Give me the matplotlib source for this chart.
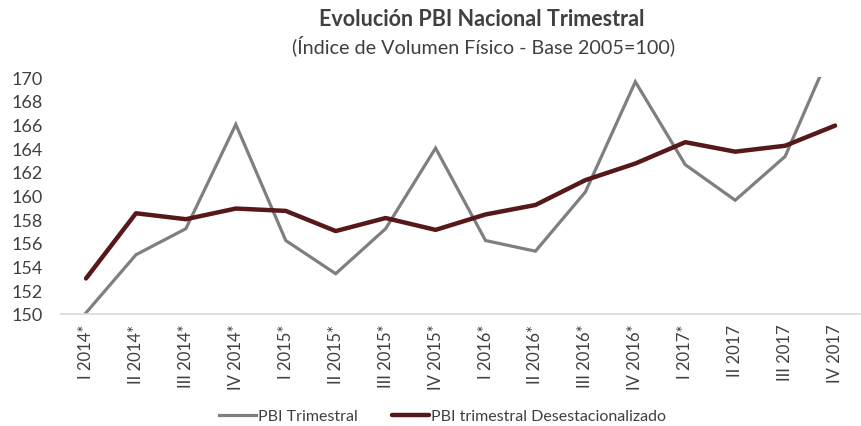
import matplotlib
matplotlib.use("Agg")
import matplotlib.pyplot as plt

categories = ["I 2014*", "II 2014*", "III 2014*", "IV 2014*",
              "I 2015*", "II 2015*", "III 2015*", "IV 2015*",
              "I 2016*", "II 2016*", "III 2016*", "IV 2016*",
              "I 2017*", "II 2017", "III 2017", "IV 2017"]
pbi_trimestral = [150.1, 155.0, 157.2, 166.0, 156.2, 153.4, 157.2, 164.0,
                  156.2, 155.3, 160.3, 169.6, 162.6, 159.6, 163.3, 173.0]
pbi_desest = [153.0, 158.5, 158.0, 158.9, 158.7, 157.0, 158.1, 157.1,
              158.4, 159.2, 161.3, 162.7, 164.5, 163.7, 164.2, 165.9]
yticks = list(range(150, 171, 2))

plt.rcParams['font.family'] = ['Lato', 'DejaVu Sans']

fig = plt.figure(figsize=(8.61, 4.27), dpi=100)
ax = fig.add_axes([0.0709, 0.2623, 0.928, 0.555])
x = list(range(len(categories)))
ax.plot(x, pbi_trimestral, color='#7f7f7f', lw=2.3, label='PBI Trimestral',
        solid_joinstyle='miter')
ax.plot(x, pbi_desest, color='#561818', lw=3.2,
        label='PBI trimestral Desestacionalizado', solid_capstyle='round')
ax.set_xlim(-0.5, len(categories) - 0.5)
ax.set_ylim(150, 170)
ax.set_yticks(yticks)
ax.set_yticklabels([str(v) for v in yticks], fontsize=13, color='#404040')
ax.set_xticks(x)
ax.set_xticklabels(categories, rotation=90, fontsize=12, color='#404040')
ax.tick_params(axis='x', length=0, pad=7)
ax.tick_params(axis='y', length=0, pad=13)
for s in ['top', 'right', 'left']:
    ax.spines[s].set_visible(False)
ax.spines['bottom'].set_color('#d9d9d9')
ax.spines['bottom'].set_linewidth(1.2)

fig.text(482 / 861, 1 - 20 / 427, 'Evolución PBI Nacional Trimestral', ha='center', va='center',
         fontsize=15.5, fontweight='bold', color='#404040')
fig.text(484 / 861, 1 - 46 / 427, '(Índice de Volumen Físico - Base 2005=100)', ha='center', va='center',
         fontsize=14.2, color='#404040')

leg = fig.legend(loc='center', bbox_to_anchor=(0.514, 1 - 417 / 427), ncol=2, frameon=False,
                 fontsize=11.5, handlelength=2.3, handletextpad=0.1, columnspacing=2.2,
                 labelcolor='#404040')

fig.savefig('out.png', dpi=100)
